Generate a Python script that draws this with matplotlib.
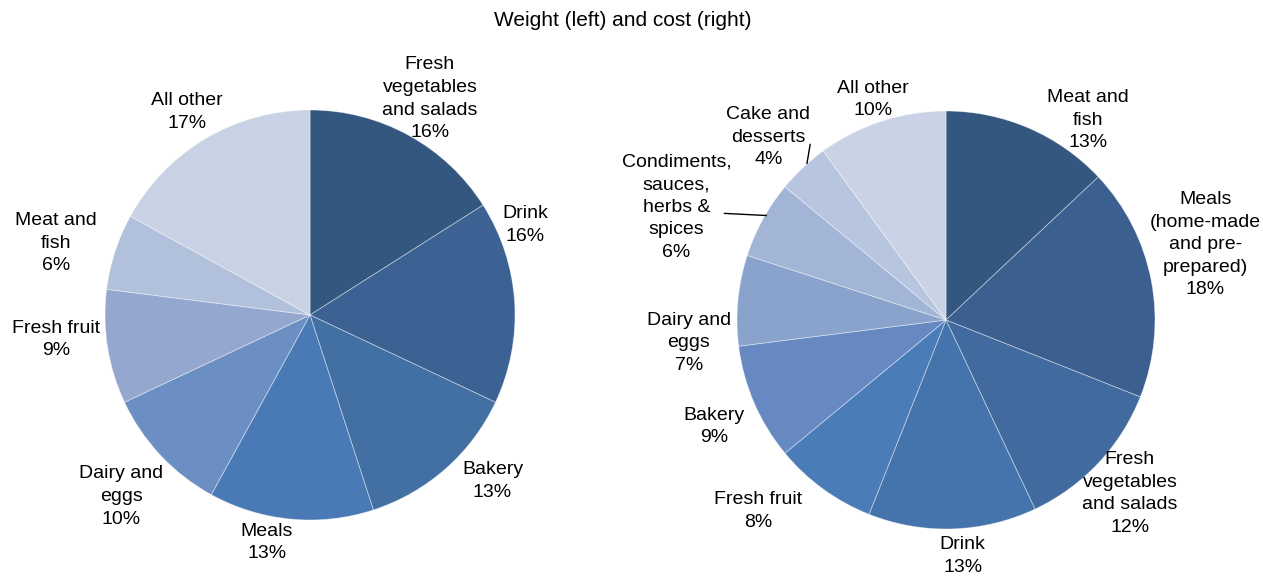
import matplotlib
matplotlib.use("Agg")
import matplotlib.pyplot as plt

plt.rcParams["font.family"] = ["Liberation Sans", "DejaVu Sans"]

# Share of food waste by weight (left pie) and by cost (right pie), percent
weight_labels = ["Fresh\nvegetables\nand salads", "Drink", "Bakery", "Meals",
                 "Dairy and\neggs", "Fresh fruit", "Meat and\nfish", "All other"]
weight_values = [16, 16, 13, 13, 10, 9, 6, 17]

cost_labels = ["Meat and\nfish", "Meals\n(home-made\nand pre-\nprepared)",
               "Fresh\nvegetables\nand salads", "Drink", "Fresh fruit",
               "Bakery", "Dairy and\neggs",
               "Condiments,\nsauces,\nherbs &\nspices", "Cake and\ndesserts",
               "All other"]
cost_values = [13, 18, 12, 13, 8, 9, 7, 6, 4, 10]

weight_colors = ["#34577f", "#3b6293", "#4270a3", "#4a7ab5",
                 "#6c8fc3", "#94a8cf", "#b1c1db", "#c9d2e4"]
cost_colors = ["#34577f", "#3b5f8e", "#416b9e", "#4573ab", "#4a7cb8",
               "#6589c0", "#89a3cc", "#a2b5d6", "#b8c5df", "#cad3e5"]

# label centres, in units of the pie radius
weight_label_pos = [(0.585, 1.055), (1.05, 0.44), (0.89, -0.81), (-0.21, -1.11),
                    (-0.92, -0.885), (-1.24, -0.12), (-1.24, 0.35), (-0.60, 0.99)]
cost_label_pos = [(0.68, 0.955), (1.24, 0.36), (0.88, -0.83), (0.08, -1.13),
                  (-0.90, -0.915), (-1.11, -0.51), (-1.23, -0.11),
                  (-1.29, 0.54), (-0.85, 0.875), (-0.35, 1.055)]

W, H = 1263, 579
fig = plt.figure(figsize=(W / 100, H / 100), dpi=100)


def pie_axes(cx, cy, r):
    # axes placed so that one data unit equals r pixels, centred at (cx, cy)
    x0, x1, y0, y1 = -1.5, 1.5, -1.3, 1.4
    ax = fig.add_axes([(cx + x0 * r) / W, (H - cy + y0 * r) / H,
                       (x1 - x0) * r / W, (y1 - y0) * r / H])
    return ax, (x0, x1, y0, y1)


def draw_pie(ax, lims, values, labels, colors, label_pos):
    ax.pie(values, colors=colors, startangle=90, counterclock=False,
           radius=1.0,
           wedgeprops={"edgecolor": (1, 1, 1, 0.45), "linewidth": 0.6})
    for lab, v, (x, y) in zip(labels, values, label_pos):
        ax.text(x, y, "{}\n{}%".format(lab, v), ha="center", va="center",
                fontsize=14, linespacing=1.43, color="#000000")
    ax.set_xlim(lims[0], lims[1])
    ax.set_ylim(lims[2], lims[3])
    ax.set_aspect("equal")
    ax.axis("off")


ax1, lims1 = pie_axes(310, 315, 205)
draw_pie(ax1, lims1, weight_values, weight_labels, weight_colors,
         weight_label_pos)

ax2, lims2 = pie_axes(946, 320, 209)
draw_pie(ax2, lims2, cost_values, cost_labels, cost_colors, cost_label_pos)

# leader lines for the two small slices on the right
ax2.plot([-1.06, -0.86], [0.51, 0.50], color="black", lw=1.0)
ax2.plot([-0.65, -0.665], [0.84, 0.75], color="black", lw=1.0)

fig.text(623 / W, 1 - 21 / H, "Weight (left) and cost (right)",
         ha="center", va="center", fontsize=15)

fig.savefig("out.png", dpi=100)
